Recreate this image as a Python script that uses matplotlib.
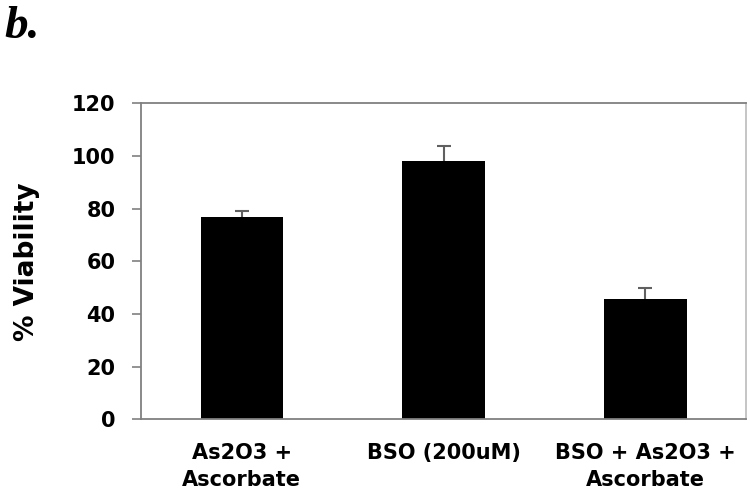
import numpy as np
import matplotlib.pyplot as plt

# data
groups = ['As2O3 +\nAscorbate', 'BSO (200uM)', 'BSO + As2O3 +\nAscorbate']
viability = [76.7, 98.1, 45.5]
err = [2.3, 5.5, 4.4]

fig = plt.figure(figsize=(7.5, 4.99), dpi=100)
ax = fig.add_axes([0.188, 0.160, 0.807, 0.633])

x = np.arange(len(groups))
# error bars sit behind the bars so only the upper half shows
ax.errorbar(x, viability, yerr=err, fmt='none',
            ecolor='#606060', elinewidth=1.5, capsize=5, capthick=1.5, zorder=1)
ax.bar(x, viability, width=0.41, color='black', zorder=2)

ax.set_xlim(-0.5, 2.5)
ax.set_ylim(0, 120)
ax.set_yticks(np.arange(0, 121, 20))
ax.set_xticks(x)
ax.set_xticklabels(groups, fontsize=15, fontweight='bold', linespacing=1.45)
for lab in ax.get_yticklabels():
    lab.set_fontweight('bold')
ax.tick_params(axis='y', labelsize=15, length=6.5, width=1.2, color='#808080', pad=12)
ax.tick_params(axis='x', length=0, pad=17)

ax.set_ylabel('% Viability', fontsize=19, fontweight='bold', labelpad=23)

for side in ['left', 'bottom', 'top']:
    ax.spines[side].set_color('#808080')
    ax.spines[side].set_linewidth(1.3)
ax.spines['right'].set_color('#c0c0c0')
ax.spines['right'].set_linewidth(1.3)

fig.text(0.006, 0.988, 'b.', fontsize=34, fontweight='bold', fontstyle='italic',
         family='Liberation Serif', ha='left', va='top')

plt.savefig('out.png', dpi=100)
